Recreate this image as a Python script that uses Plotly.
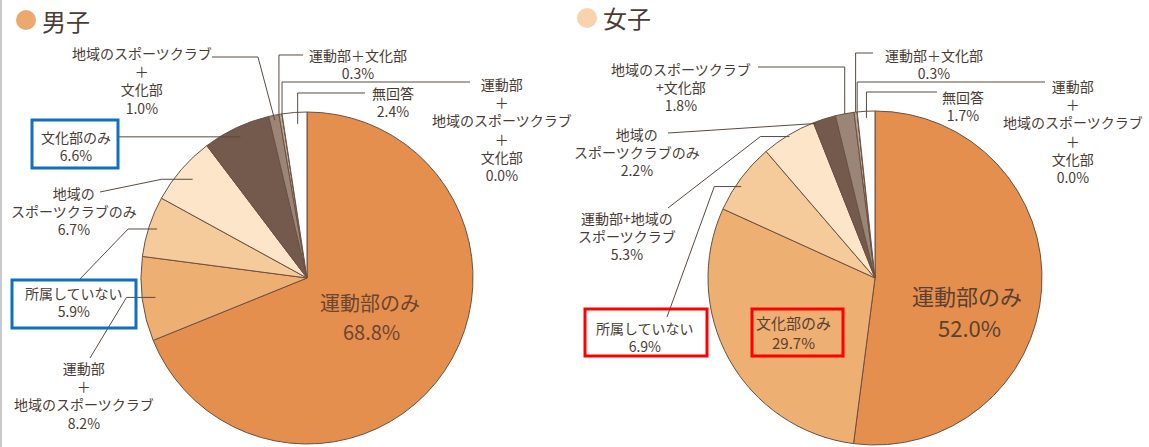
import math
import plotly.graph_objects as go

# ---------------- data ----------------
boys_labels = ["運動部のみ", "運動部＋地域のスポーツクラブ", "所属していない", "地域のスポーツクラブのみ",
               "文化部のみ", "地域のスポーツクラブ＋文化部", "運動部＋文化部",
               "運動部＋地域のスポーツクラブ＋文化部", "無回答"]
boys_values = [68.8, 8.2, 5.9, 6.7, 6.6, 1.0, 0.3, 0.0, 2.4]

girls_labels = ["運動部のみ", "文化部のみ", "所属していない", "運動部＋地域のスポーツクラブ",
                "地域のスポーツクラブのみ", "地域のスポーツクラブ＋文化部", "運動部＋文化部",
                "運動部＋地域のスポーツクラブ＋文化部", "無回答"]
girls_values = [52.0, 29.7, 6.9, 5.3, 2.2, 1.8, 0.3, 0.0, 1.7]

slice_colors = ["#E58F4E", "#EEAF73", "#F6CB9C", "#FCE5C9", "#735A4D",
                "#9A8577", "#B7A597", "#CBBDB1", "#FFFFFF"]

# ---------------- layout helpers ----------------
W, H = 1149, 447
FONT = "Noto Sans CJK JP"
TXT = "#4a3c34"
LINE = "#5a4a40"


def X(px):
    return px / W


def Y(py):
    return 1 - py / H


L_C, L_R = (307, 278), 166
R_C, R_R = (875, 278), 167


def slice_point(values, idx, frac, rfrac, center, R):
    total = sum(values)
    start = sum(values[:idx])
    a = (start + frac * values[idx]) / total * 2 * math.pi
    return center[0] + rfrac * R * math.sin(a), center[1] - rfrac * R * math.cos(a)


fig = go.Figure()


def add_pie(values, labels, center, R):
    fig.add_trace(go.Pie(
        values=values, labels=labels, sort=False, direction="clockwise", rotation=0,
        marker=dict(colors=slice_colors, line=dict(color="#6b5042", width=1)),
        textinfo="none", hoverinfo="label+percent", showlegend=False,
        domain=dict(x=[X(center[0] - R), X(center[0] + R)],
                    y=[Y(center[1] + R), Y(center[1] - R)]),
    ))


add_pie(boys_values, boys_labels, L_C, L_R)
add_pie(girls_values, girls_labels, R_C, R_R)

shapes = []
annotations = []


def text(x, y, s, size=14, color=TXT):
    annotations.append(dict(x=X(x), y=Y(y), xref="paper", yref="paper", text=s,
                            showarrow=False, xanchor="center", yanchor="middle", borderpad=0,
                            font=dict(family=FONT, size=size, color=color)))


def path(points):
    d = "M " + " L ".join(f"{X(px):.5f},{Y(py):.5f}" for px, py in points)
    shapes.append(dict(type="path", path=d, xref="paper", yref="paper",
                       line=dict(color=LINE, width=1)))


def leader(values, center, R, idx, frac, rfrac, mode, start, extra=None):
    xs, ys = slice_point(values, idx, frac, rfrac, center, R)
    x0, y0 = start
    if mode == "hv":
        pts = [(x0, y0), (xs, y0), (xs, ys)]
    elif mode == "h":
        pts = [(x0, ys), (xs, ys)]
    elif mode == "dh":
        pts = [(x0, y0), (xs - extra, ys), (xs, ys)]
    elif mode == "hd":
        pts = [(x0, y0), (extra, y0), (xs, ys)]
    else:
        pts = [(x0, y0), (xs, ys)]
    path(pts)


def box(x0, y0, x1, y1, color):
    shapes.append(dict(type="rect", xref="paper", yref="paper",
                       x0=X(x0), x1=X(x1), y0=Y(y1), y1=Y(y0),
                       line=dict(color=color, width=3), fillcolor="rgba(0,0,0,0)"))


# left border line
shapes.append(dict(type="line", xref="paper", yref="paper", x0=X(1), x1=X(1), y0=0, y1=1,
                   line=dict(color="#c8c8c8", width=2)))

# titles
shapes.append(dict(type="circle", xref="paper", yref="paper", x0=X(16), x1=X(36), y0=Y(30), y1=Y(10),
                   fillcolor="#EBA96E", line=dict(width=0)))
shapes.append(dict(type="circle", xref="paper", yref="paper", x0=X(577), x1=X(597), y0=Y(28), y1=Y(8),
                   fillcolor="#F9D3AD", line=dict(width=0)))
annotations.append(dict(x=X(40), y=Y(20), xref="paper", yref="paper", text="男子", showarrow=False,
                        xanchor="left", yanchor="middle", font=dict(family=FONT, size=24, color=TXT)))
annotations.append(dict(x=X(601), y=Y(18), xref="paper", yref="paper", text="女子", showarrow=False,
                        xanchor="left", yanchor="middle", font=dict(family=FONT, size=24, color=TXT)))

# ---------------- boys labels ----------------
bv = boys_values
text(142, 81, "地域のスポーツクラブ<br>＋<br>文化部<br>1.0%")
leader(bv, L_C, L_R, 5, 0.5, 0.97, "hd", (212, 57), 258)
text(358, 64, "運動部＋文化部<br>0.3%")
leader(bv, L_C, L_R, 6, 0.0, 1.0, "hv", (303, 55))
text(502, 130, "運動部<br>＋<br>地域のスポーツクラブ<br>＋<br>文化部<br>0.0%")
leader(bv, L_C, L_R, 7, 0.0, 1.0, "hv", (470, 82))
text(393, 102, "無回答<br>2.4%")
leader(bv, L_C, L_R, 8, 0.6, 0.93, "hv", (365, 93))
text(76, 146, "文化部のみ<br>6.6%")
leader(bv, L_C, L_R, 4, 0.5, 0.94, "h", (118, 0))
text(74, 211, "地域の<br>スポーツクラブのみ<br>6.7%")
leader(bv, L_C, L_R, 3, 0.5, 0.91, "dh", (100, 192), 31)
text(74, 302, "所属していない<br>5.9%")
leader(bv, L_C, L_R, 2, 0.5, 0.95, "dh", (80, 279), 29)
text(84, 395, "運動部<br>＋<br>地域のスポーツクラブ<br>8.2%")
leader(bv, L_C, L_R, 1, 0.5, 0.92, "dh", (90, 358), 29)
text(370, 302, "運動部のみ", size=20, color="#6a4530")
text(371, 331, "68.8%", size=20, color="#6a4530")
box(32, 120, 118, 168, "#1070C0")
box(12, 280, 136, 328, "#1070C0")

# ---------------- girls labels ----------------
gv = girls_values
text(681, 87, "地域のスポーツクラブ<br>+文化部<br>1.8%")
leader(gv, R_C, R_R, 5, 0.5, 1.0, "hv", (758, 67))
text(934, 64, "運動部＋文化部<br>0.3%")
leader(gv, R_C, R_R, 6, 0.5, 1.0, "hv", (873, 53))
text(1073, 131, "運動部<br>＋<br>地域のスポーツクラブ<br>＋<br>文化部<br>0.0%")
leader(gv, R_C, R_R, 7, 0.0, 1.0, "hv", (1045, 82))
text(963, 106, "無回答<br>1.7%")
leader(gv, R_C, R_R, 8, 0.5, 0.96, "hv", (937, 92))
text(637, 152, "地域の<br>スポーツクラブのみ<br>2.2%")
leader(gv, R_C, R_R, 4, 0.1, 0.99, "d", (668, 133))
text(627, 236, "運動部+地域の<br>スポーツクラブ<br>5.3%")
leader(gv, R_C, R_R, 3, 0.5, 0.99, "dh", (668, 208), 29)
text(645, 337, "所属していない<br>6.9%")
leader(gv, R_C, R_R, 2, 0.4, 0.97, "dh", (667, 317), 27)
text(793, 332, "文化部のみ<br>29.7%", size=15, color="#5a4030")
text(967, 295, "運動部のみ", size=22, color="#5a4030")
text(969, 327, "52.0%", size=22, color="#5a4030")
box(585, 309, 707, 356, "#FF0000")
box(752, 309, 843, 356, "#FF0000")

fig.update_layout(
    width=W, height=H,
    margin=dict(l=0, r=0, t=0, b=0),
    paper_bgcolor="#FFFFFF", plot_bgcolor="#FFFFFF",
    shapes=shapes, annotations=annotations,
    font=dict(family=FONT, color=TXT),
)

fig.write_html("out.html", config={"displayModeBar": False},
               post_script="document.body.style.margin='0';document.body.style.overflow='hidden';")
